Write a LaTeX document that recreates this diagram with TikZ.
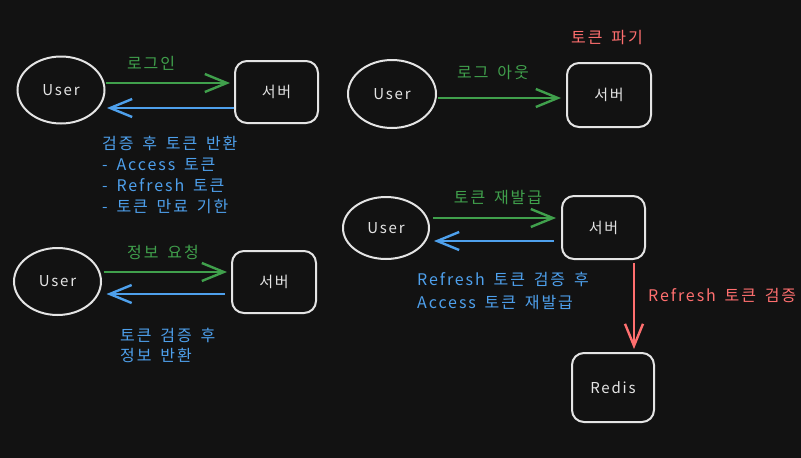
\documentclass[tikz,border=0pt]{standalone}
\usepackage{fontspec}
\setmainfont{Noto Sans CJK KR}[LetterSpace=12,WordSpace=1.6]
\usetikzlibrary{shapes.geometric,arrows.meta}
\definecolor{bg}{HTML}{121212}
\definecolor{ink}{HTML}{E4E4E4}
\definecolor{gr}{HTML}{40A04C}
\definecolor{bl}{HTML}{4EA0EC}
\definecolor{rd}{HTML}{FF6F6F}
\tikzset{
  user/.style={ellipse,draw=ink,line width=2pt,inner sep=0pt,text=ink,font=\fontsize{15}{18}\selectfont},
  srv/.style={rectangle,rounded corners=12pt,draw=ink,line width=2pt,inner sep=0pt,text=ink,font=\fontsize{15}{18}\selectfont},
  arr/.style={line width=2.6pt,-{Straight Barb[length=22pt,width=18pt,line width=2.4pt]}},
  garr/.style={arr,draw=gr},
  barr/.style={arr,draw=bl},
  rarr/.style={arr,draw=rd},
  glab/.style={text=gr,font=\fontsize{16}{19}\selectfont,inner sep=0pt},
  blab/.style={text=bl,font=\fontsize{16}{21}\selectfont,inner sep=0pt,align=left,anchor=north west},
  rlab/.style={text=rd,font=\fontsize{16}{19}\selectfont,inner sep=0pt}
}
\begin{document}
\begin{tikzpicture}[x=1pt,y=-1pt]
\fill[bg] (0,0) rectangle (801,458);
\useasboundingbox (0,0) rectangle (801,458);
% section 1
\node[user,minimum width=87pt,minimum height=67pt] (u1) at (61,90) {User};
\node[srv,minimum width=83pt,minimum height=62pt] (s1) at (276.5,92) {서버};
\draw[garr] ([shift={(0.5,-7)}]u1.east) -- ([shift={(-4,-9)}]s1.west);
\draw[barr] ([shift={(0,16)}]s1.west) -- ([shift={(1.5,18)}]u1.east);
\node[glab] (l1) at (151,63) {로그인};
\node[blab] (t1) at (102,136) {검증 후 토큰 반환\\- Access 토큰\\- Refresh 토큰\\- 토큰 만료 기한};
% section 2
\node[user,minimum width=88pt,minimum height=68pt] (u2) at (392,94) {User};
\node[srv,minimum width=84pt,minimum height=64pt] (s2) at (609,95) {서버};
\draw[garr] ([shift={(1,4)}]u2.east) -- ([shift={(-5,3)}]s2.west);
\node[glab] (l2) at (493,73) {로그 아웃};
\node[rlab] (l2r) at (607,38) {토큰 파기};
% section 3
\node[user,minimum width=86pt,minimum height=62pt] (u3) at (386,228) {User};
\node[srv,minimum width=83pt,minimum height=63pt] (s3) at (603.5,227.5) {서버};
\draw[garr] ([shift={(3,-10)}]u3.east) -- ([shift={(-5,-9.5)}]s3.west);
\draw[barr] ([shift={(-7,13.5)}]s3.west) -- ([shift={(4,13)}]u3.east);
\node[glab] (l3) at (498,198) {토큰 재발급};
\node[blab,font=\fontsize{16}{23}\selectfont] (t3) at (417,272) {Refresh 토큰 검증 후\\Access 토큰 재발급};
\node[srv,minimum width=82pt,minimum height=69pt] (r3) at (613,387.5) {Redis};
\draw[rarr] ([shift={(30.5,3)}]s3.south) -- ([shift={(21,-3)}]r3.north);
\node[rlab,anchor=west] (l3r) at (648,295) {Refresh 토큰 검증};
% section 4
\node[user,minimum width=87pt,minimum height=67pt] (u4) at (57.5,281.5) {User};
\node[srv,minimum width=84pt,minimum height=62pt] (s4) at (274,282) {서버};
\draw[garr] ([shift={(1.5,-9.5)}]u4.east) -- ([shift={(-4,-10)}]s4.west);
\draw[barr] ([shift={(-6,12)}]s4.west) -- ([shift={(4.5,12.5)}]u4.east);
\node[glab] (l4) at (163,252) {정보 요청};
\node[blab,font=\fontsize{16}{20}\selectfont] (t4) at (120,328) {토큰 검증 후\\정보 반환};
\end{tikzpicture}
\end{document}
